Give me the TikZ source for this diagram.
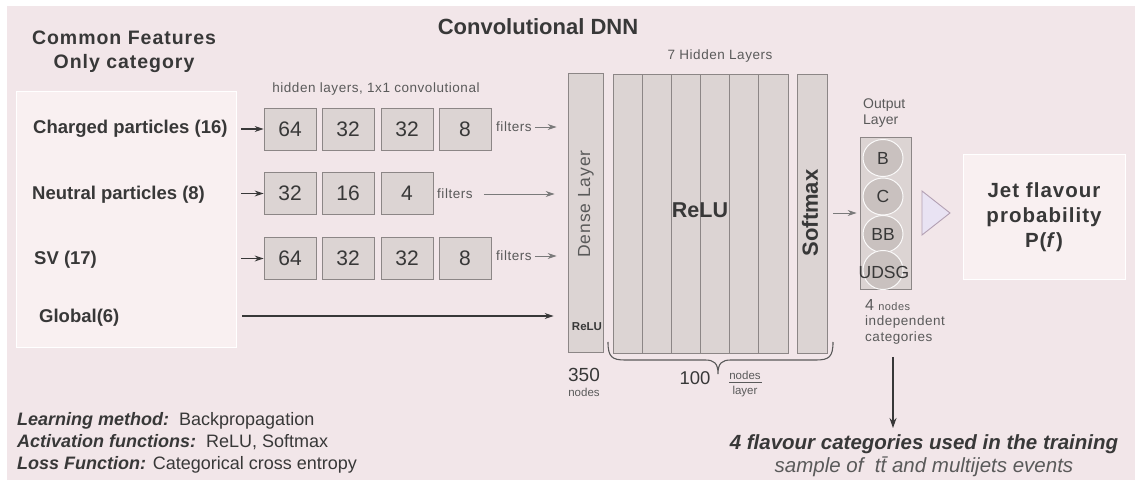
\documentclass[tikz,border=0pt]{standalone}
\usepackage{fontspec}
\setmainfont{Liberation Sans}
\usetikzlibrary{arrows.meta,shapes.geometric}
\definecolor{bg}{HTML}{F2E6E9}
\definecolor{panel}{HTML}{F9F0F1}
\definecolor{boxfill}{HTML}{DCD4D3}
\definecolor{boxline}{HTML}{8C8686}
\definecolor{ink}{HTML}{383838}
\definecolor{soft}{HTML}{5A5A5A}
\definecolor{arrowgray}{HTML}{7A7A7A}
\definecolor{cellfill}{HTML}{C9C1BF}
\definecolor{trifill}{HTML}{E9E3F3}
\definecolor{triline}{HTML}{B3A0B3}
% font size with default leading, and with explicit leading
\newcommand{\fs}[1]{\fontsize{#1pt}{\dimexpr#1pt*12/10\relax}\selectfont}
\newcommand{\fsl}[2]{\fontsize{#1pt}{#2pt}\selectfont}

\begin{document}
\begin{tikzpicture}[x=1pt,y=-1pt,
  every node/.style={inner sep=0pt, text=ink},
  conv/.style={draw=boxline, fill=boxfill, line width=0.8pt,
    minimum width=52pt, minimum height=42pt, font=\fs{21}},
  layer/.style={draw=boxline, fill=boxfill, line width=0.8pt,
    minimum height=279pt},
  rowlabel/.style={anchor=west, font=\fs{18.5}\bfseries},
  filt/.style={anchor=west, font=\fs{13.5}\addfontfeature{LetterSpace=4}, text=soft},
  inarr/.style={-{Stealth[length=9pt,width=6pt]}, line width=1.1pt, draw=ink},
  grayarr/.style={-{Stealth[length=9pt,width=6pt]}, line width=0.9pt, draw=arrowgray},
  cell/.style={ellipse, fill=cellfill, draw=white!90!cellfill, line width=1pt,
    minimum width=40pt, minimum height=37pt},
  celltext/.style={font=\fs{17.5}},
  small/.style={font=\fs{13.5}\addfontfeature{LetterSpace=4}, text=soft}]

\useasboundingbox (0,0) rectangle (1141,486);
\fill[white] (0,0) rectangle (1141,486);
\fill[bg] (7,6) rectangle (1135,480);

% titles
\node[align=center, font=\fsl{19.5}{24}\bfseries\addfontfeature{LetterSpace=5}] (title) at (124,52)
  {Common Features\\Only category};
\node[font=\fs{22}\bfseries] (cdnn) at (538,27) {Convolutional DNN};

% input panel
\node[draw=white, fill=panel, line width=1pt, minimum width=220pt, minimum height=256pt]
  (panel) at (126,220) {};
\node[rowlabel] (lab1) at (33,129) {Charged particles (16)};
\node[rowlabel] (lab2) at (32,194.5) {Neutral particles (8)};
\node[rowlabel] (lab3) at (34,259.5) {SV (17)};
\node[rowlabel] (lab4) at (39,318) {Global(6)};

% convolutional filters
\node[small] (hid) at (376,89) {hidden layers, 1x1 convolutional};
\node[conv] (c11) at (290,129) {64};
\node[conv] (c12) at (348,129) {32};
\node[conv] (c13) at (407,129) {32};
\node[conv] (c14) at (465,129) {8};
\node[conv] (c21) at (290,193.5) {32};
\node[conv] (c22) at (348,193.5) {16};
\node[conv] (c23) at (407,193.5) {4};
\node[conv] (c31) at (290,258.5) {64};
\node[conv] (c32) at (348,258.5) {32};
\node[conv] (c33) at (407,258.5) {32};
\node[conv] (c34) at (465,258.5) {8};

\coordinate (s1) at (241,129);
\coordinate (s2) at (241,193.5);
\coordinate (s3) at (241,258.5);
\coordinate (s4) at (242,316);
\draw[inarr] (s1) -- (c11.west);
\draw[inarr] (s2) -- (c21.west);
\draw[inarr] (s3) -- (c31.west);

\node[filt] (f1) at (496,127) {filters};
\node[filt] (f2) at (437,194) {filters};
\node[filt] (f3) at (496,256) {filters};

% dense layer
\node[layer, minimum width=35pt] (dense) at (585.5,213) {};
\node[rotate=90, font=\fs{17.5}\addfontfeature{LetterSpace=5}, text=soft] (dtxt) at (586,204) {Dense Layer};
\node[font=\fs{11.5}\bfseries] (drelu) at (587,327) {ReLU};

\draw[grayarr, shorten <=3pt, shorten >=11pt] (f1.east) -- (f1.east -| dense.west);
\draw[grayarr, shorten <=11pt, shorten >=13pt] (f2.east) -- (f2.east -| dense.west);
\draw[grayarr, shorten <=3pt, shorten >=11pt] (f3.east) -- (f3.east -| dense.west);
\draw[inarr, shorten >=14pt] (s4) -- (s4 -| dense.west);

% hidden layers
\node[small] (seven) at (720,56) {7 Hidden Layers};
\foreach \i in {1,...,6}{
  \node[layer, minimum width=29.17pt] (h\i) at ({613+29.17*(\i-0.5)},213.5) {};
}
\node[font=\fs{21.5}\bfseries] (relu) at (700,210) {ReLU};

% softmax layer
\node[layer, minimum width=30pt] (soft) at (812,213.5) {};
\node[rotate=90, font=\fs{22}\bfseries] (stxt) at (810,213) {Softmax};

% brace under the hidden layers
\draw[soft, line width=1.1pt]
  (608,342) .. controls (608,357) and (612,360) .. (625,360) -- (705,360)
  .. controls (714,360) and (718,363) .. (718,374)
  .. controls (718,363) and (722,360) .. (731,360) -- (816,360)
  .. controls (829,360) and (833,357) .. (833,342);

\node[font=\fs{19}, text=ink] (n350) at (584,375) {350};
\node[font=\fs{11.5}, text=soft] (n350b) at (584,392) {nodes};
\node[font=\fs{18.5}, text=ink] (n100) at (695,378) {100};
\node[font=\fs{11.5}, text=soft] (nodesup) at (745,375) {nodes};
\node[font=\fs{11.5}, text=soft] (layerdn) at (745,392) {layer};
\draw[soft, line width=0.8pt] (nodesup.south west) ++(0,3) -- ++(33,0);

% output layer
\node[small, align=left, anchor=north west, font=\fsl{14}{16}] (outl) at (863,99) {Output\\Layer};
\node[draw=boxline, fill=boxfill, line width=0.8pt, minimum width=51pt, minimum height=152pt]
  (out) at (885.5,213) {};
\node[cell] (cb) at (883,158) {};
\node[cell] (cc) at (883,196.5) {};
\node[cell] (cbb) at (883,234) {};
\node[cell, minimum height=39pt] (cu) at (883,270) {};
\node[celltext] at (cb) {B};
\node[celltext] at (cc) {C};
\node[celltext] at (cbb) {BB};
\node[celltext] at (884,272) {UDSG};
\draw[grayarr, shorten <=6pt, shorten >=3pt] (soft.east |- out.west) -- (out.west);

\node[small, align=left, anchor=north west, font=\fsl{13.5}{15.5}\addfontfeature{LetterSpace=4}] (ncat) at (865,299)
  {{\fs{16}4} {\fs{11}nodes}\\independent\\categories};

% result
\draw[triline, fill=trifill, line width=0.9pt] (922,191) -- (950,213) -- (922,235) -- cycle;
\node[draw=white, fill=panel, line width=1pt, minimum width=162pt, minimum height=125pt,
  align=center, font=\fsl{20.5}{25}\bfseries\addfontfeature{LetterSpace=5}] (jet) at (1044,217.5)
  {Jet flavour\\probability\\P(\textit{f})};

% training sample
\node[align=center, font=\fsl{20.5}{23}] (train) at (924,456)
  {\textbf{\textit{4 flavour categories used in the training}}\\
   \textcolor{soft}{\textit{sample of \ t\={t} and multijets events}}};
\coordinate (d0) at (893,357);
\draw[-{Stealth[length=10pt,width=7pt]}, line width=1.1pt, draw=ink] (d0) -- (d0 |- 0,428);

% training settings
\node[anchor=north west, align=left, font=\fsl{18}{22}] (notes) at (17,412)
  {\textbf{\textit{Learning method:}}\ \ Backpropagation\\
   \textbf{\textit{Activation functions:}}\ \ ReLU, Softmax\\
   \textbf{\textit{Loss Function:}} Categorical cross entropy};
\end{tikzpicture}
\end{document}
